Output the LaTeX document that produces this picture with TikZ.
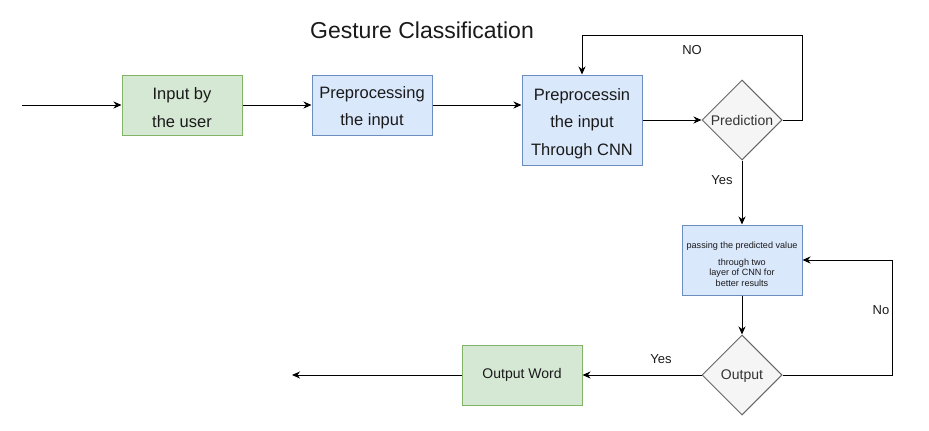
\documentclass[tikz,border=0pt]{standalone}
\usepackage{fontspec}
\setmainfont{Liberation Sans}
\usetikzlibrary{shapes.geometric,arrows.meta}
\definecolor{gfill}{HTML}{D5E8D4}
\definecolor{gline}{HTML}{82B366}
\definecolor{bfill}{HTML}{DAE8FC}
\definecolor{bline}{HTML}{6C8EBF}
\definecolor{dfill}{HTML}{F5F5F5}
\definecolor{dline}{HTML}{666666}
\definecolor{dtext}{HTML}{333333}
\definecolor{btext}{HTML}{1A1A1A}
\begin{document}
\begin{tikzpicture}[x=1pt,y=-1pt,
  boxtext/.style={align=center,text=btext,inner sep=0pt,font=\fontsize{16.5}{27.5}\selectfont},
  greenbox/.style={rectangle,draw=gline,fill=gfill,line width=1pt,minimum width=120pt,minimum height=60pt,inner sep=0pt,align=center,text=btext,font=\fontsize{16.5}{27.5}\selectfont},
  bluebox/.style={rectangle,draw=bline,fill=bfill,line width=1pt,minimum width=120pt,minimum height=60pt,inner sep=0pt,align=center,text=btext,font=\fontsize{16.5}{27.5}\selectfont},
  decision/.style={diamond,draw=dline,fill=dfill,line width=1pt,minimum width=80pt,minimum height=80pt,inner sep=0pt,shape aspect=1,text=dtext,font=\fontsize{14}{16}\selectfont},
  conn/.style={draw=black,line width=1pt,-{Stealth[length=8pt,width=7pt,inset=2.5pt]}},
  lbl/.style={text=btext,font=\fontsize{13}{15}\selectfont,inner sep=0pt}]
\useasboundingbox (0,0) rectangle (929,431);
\node[font=\fontsize{23}{27}\selectfont,text=btext] (title) at (422,30) {Gesture Classification};
\coordinate (start) at (22,105);
\node[greenbox,label={[boxtext,yshift=-2.5pt]center:{Input by\\the user}}] (in1) at (182,105) {};
\node[bluebox,label={[boxtext,yshift=-2.5pt]center:{Preprocessing\\the input}}] (pre) at (372,105) {};
\node[bluebox,minimum height=90pt,label={[boxtext,yshift=-3.5pt]center:{Preprocessin\\the input\\Through CNN}}] (cnn) at (582,120) {};
\node[decision] (pred) at (742,120) {Prediction};
\node[bluebox,minimum height=70pt,label={[boxtext,yshift=-4.5pt,font=\fontsize{9.1}{10.7}\selectfont]center:{passing the predicted value\\[5.5pt]through two\\layer of CNN for\\better results}}] (pass) at (742,260) {};
\node[decision,label={[text=dtext,font=\fontsize{14}{16}\selectfont,inner sep=0pt,yshift=-1.5pt]center:Output}] (outd) at (742,375) {};
\node[greenbox,font=\fontsize{14}{16}\selectfont] (word) at (522,375) {Output Word};
\coordinate (endpt) at (292,375);
\coordinate (loop1) at (802,35);
\coordinate (loop2) at (892,260);
\draw[conn] (start) -- (in1.west);
\draw[conn] (in1.east) -- (pre.west);
\draw[conn] (pre.east) -- (pre.east -| cnn.west);
\draw[conn] (cnn.east) -- (pred.west);
\draw[conn] (pred.east) -| (loop1) -| (cnn.north);
\node[lbl] (nolbl) at (692,50) {NO};
\draw[conn] (pred.south) -- (pass.north);
\node[lbl] (yes1) at (722,180) {Yes};
\draw[conn] (pass.south) -- (outd.north);
\draw[conn] (outd.east) -| (loop2) -- (pass.east);
\node[lbl] (no2) at (881,310) {No};
\draw[conn] (outd.west) -- (word.east);
\node[lbl] (yes2) at (661,359) {Yes};
\draw[conn] (word.west) -- (endpt);
\end{tikzpicture}
\end{document}
